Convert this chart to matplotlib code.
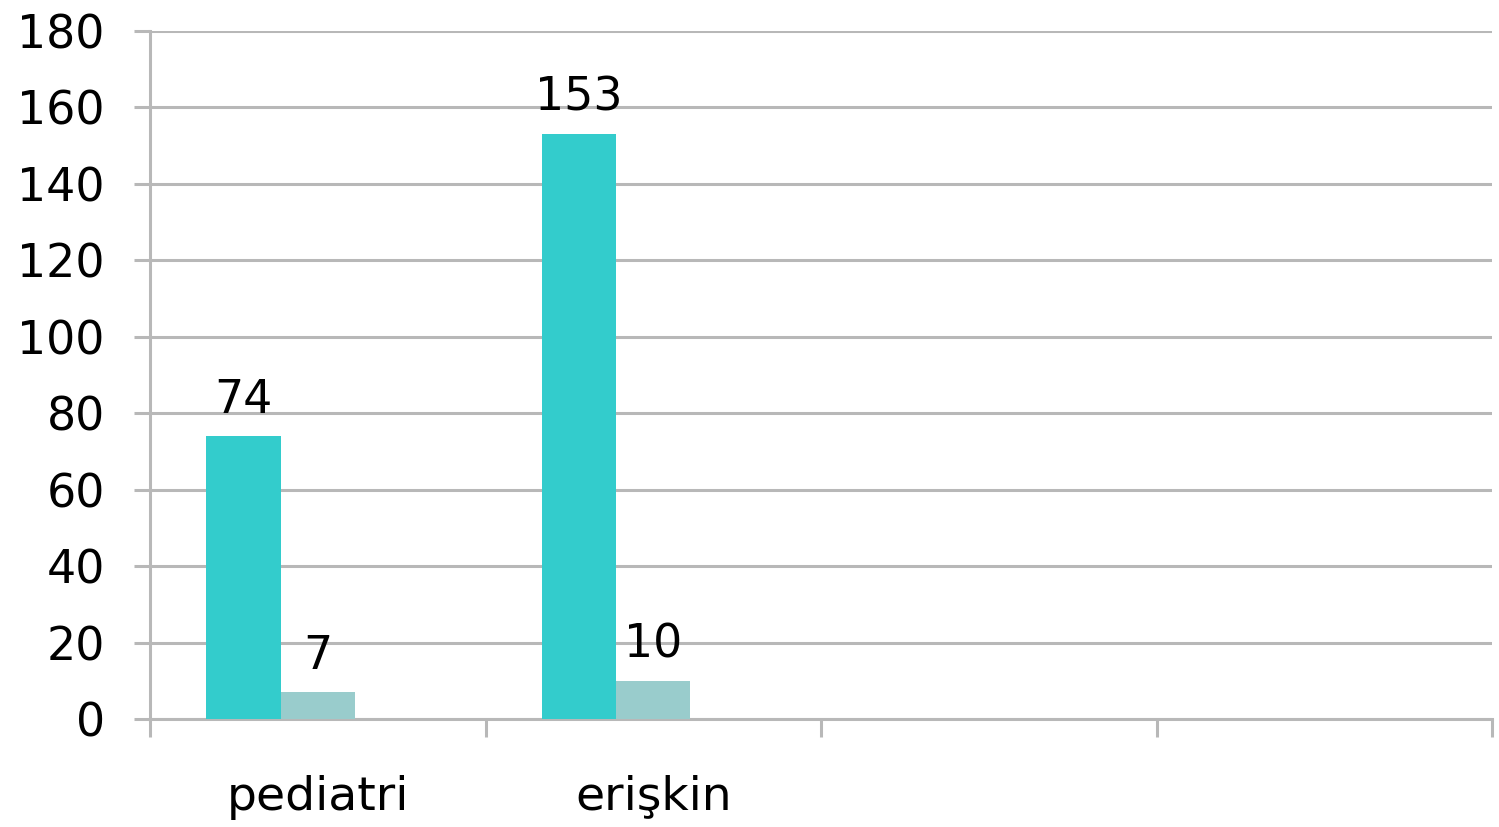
import numpy as np
import matplotlib.pyplot as plt

categories = ["pediatri", "erişkin", "", ""]
series_a = [74, 153, np.nan, np.nan]
series_b = [7, 10, np.nan, np.nan]
series_c = [np.nan, np.nan, np.nan, np.nan]  # empty third series, keeps Excel spacing

colors = ["#33cccc", "#99cccc", "#9999ff"]
grid_color = "#b8b8b8"

fig = plt.figure(figsize=(14.99, 8.27), dpi=100)
ax = fig.add_axes([150 / 1499, 1 - 719 / 827, (1492 - 150) / 1499, (719 - 31) / 827])

x = np.arange(len(categories)) + 0.5
w = 0.222
for j, vals in enumerate([series_a, series_b, series_c]):
    pos = x + (j - 1) * w
    ax.bar(pos, vals, width=w, color=colors[j], zorder=3)
    for px, v in zip(pos, vals):
        if not np.isnan(v):
            ax.text(px, v + 3.5, "%d" % v, ha="center", va="bottom",
                    fontsize=33, color="black", zorder=4)

ax.set_xlim(0, 4)
ax.set_ylim(0, 180)
ax.set_yticks(np.arange(0, 181, 20))
ax.yaxis.grid(True, color=grid_color, linewidth=2.2, zorder=0)
ax.tick_params(axis="y", length=11.5, width=2.2, color=grid_color,
               labelsize=33, pad=21)

ax.set_xticks(x)
ax.set_xticklabels(categories)
ax.set_xticks(np.arange(0, 5), minor=True)
ax.tick_params(axis="x", which="major", length=0, labelsize=34, pad=40)
ax.tick_params(axis="x", which="minor", length=13, width=2.2, color=grid_color)

for s in ["top", "right"]:
    ax.spines[s].set_visible(False)
for s in ["left", "bottom"]:
    ax.spines[s].set_color(grid_color)
    ax.spines[s].set_linewidth(2.2)

fig.savefig("out.png", dpi=100)
